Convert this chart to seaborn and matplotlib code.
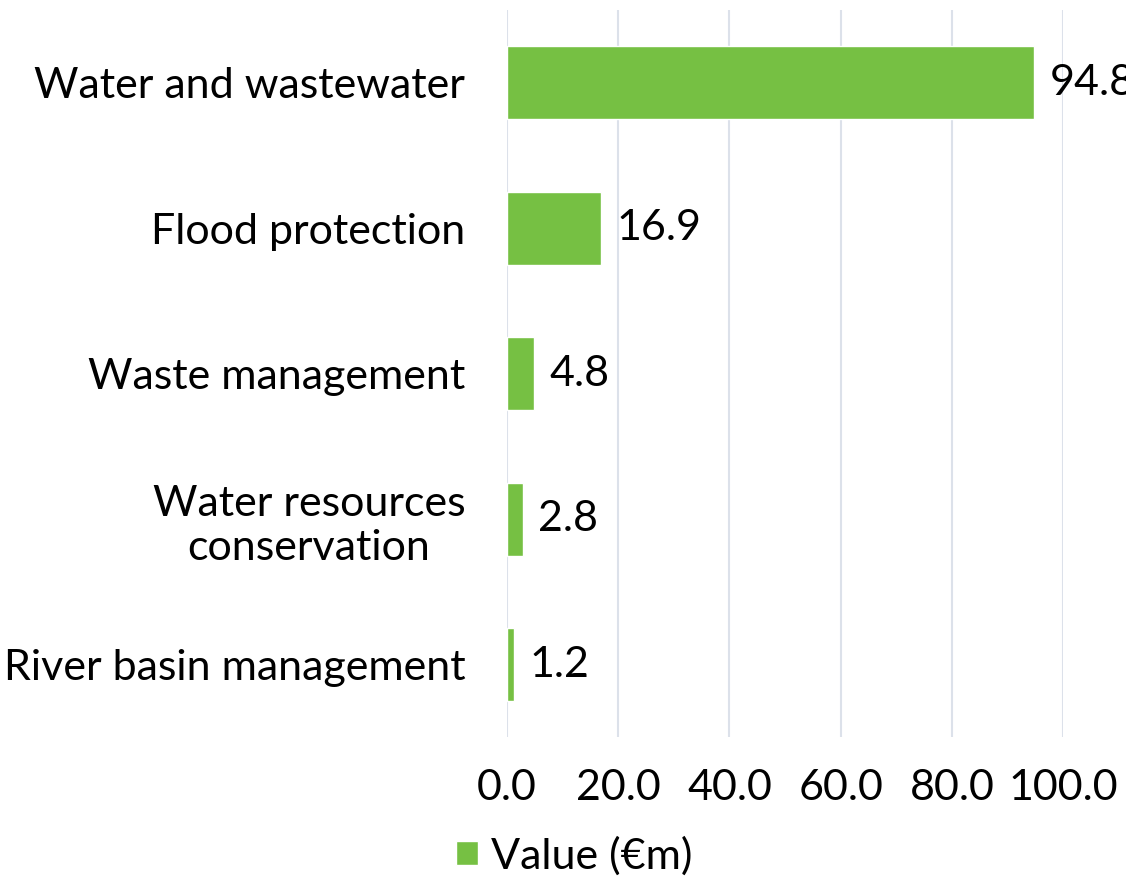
import matplotlib
matplotlib.use("Agg")
import matplotlib.pyplot as plt
import matplotlib.ticker as ticker
import seaborn as sns
import pandas as pd

categories = ["Water and wastewater", "Flood protection", "Waste management",
              "Water resources\nconservation", "River basin management"]
values = [94.8, 16.9, 4.8, 2.8, 1.2]
series_name = "Value (€m)"
x_ticks = [0, 20, 40, 60, 80, 100]

GREEN = "#76C043"

sns.set_style("white")
plt.rcParams['font.family'] = ['Lato', 'DejaVu Sans']
plt.rcParams['text.color'] = 'black'
plt.rcParams['xtick.color'] = 'black'
plt.rcParams['ytick.color'] = 'black'

df = pd.DataFrame({"category": categories, "value": values})

fig = plt.figure(figsize=(11.26, 8.82), dpi=100)
ax = fig.add_axes([0.4503, 0.164, 0.4938, 0.8247])

sns.barplot(data=df, x="value", y="category", color=GREEN, saturation=1,
            width=0.5, ax=ax, label=series_name, zorder=3)

ax.set_xlim(0, 100)
ax.set_xticks(x_ticks)
ax.xaxis.set_major_formatter(ticker.FuncFormatter(lambda x, _: f"{x:.1f}"))
ax.grid(True, axis='x', color="#DCE1EA", linewidth=1.5, zorder=0)
ax.set_axisbelow(True)
for s in ax.spines.values():
    s.set_visible(False)
ax.tick_params(axis='both', length=0, labelsize=31)
ax.tick_params(axis='x', pad=23)
ax.tick_params(axis='y', pad=30)
ax.set_xlabel("")
ax.set_ylabel("")
for lbl in ax.get_yticklabels():
    lbl.set_multialignment('center')

ax.bar_label(ax.containers[0], labels=[f"{v:.1f}" for v in values],
             padding=11, fontsize=31, clip_on=False)

handles, labels = ax.get_legend_handles_labels()
if ax.get_legend():
    ax.get_legend().remove()
fig.legend(handles, labels, loc='lower center', bbox_to_anchor=(0.51, -0.012),
           frameon=False, fontsize=31, handlelength=0.5, handleheight=0.5,
           handletextpad=0.3, borderaxespad=0)

fig.savefig("out.png", dpi=100)
